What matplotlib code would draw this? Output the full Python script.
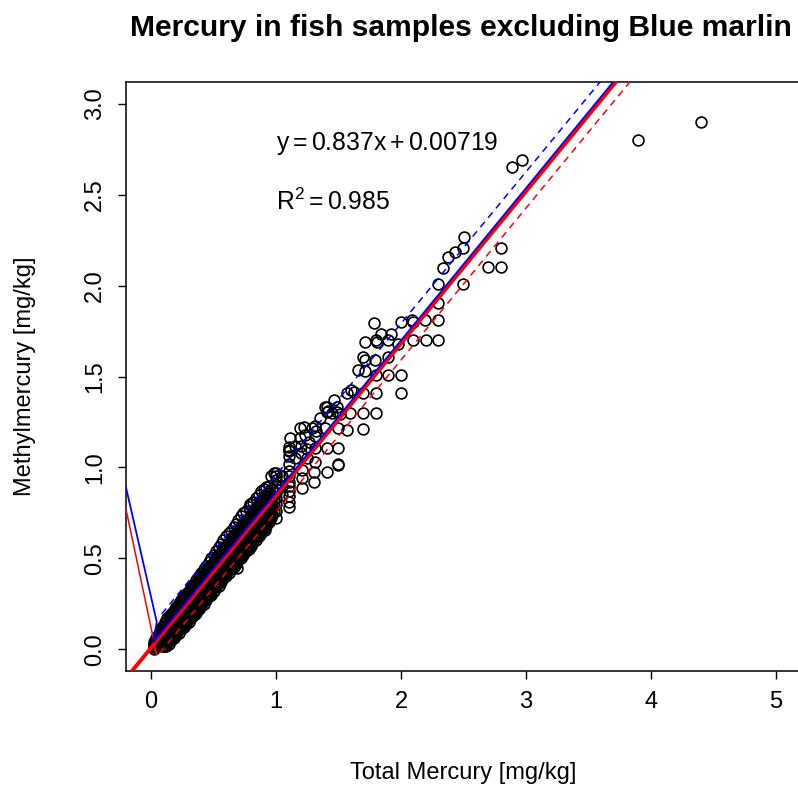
import matplotlib
matplotlib.use("Agg")
import matplotlib.pyplot as plt
import numpy as np

plt.rcParams['font.family'] = ['Liberation Sans', 'DejaVu Sans']
plt.rcParams['mathtext.fontset'] = 'custom'
plt.rcParams['mathtext.rm'] = 'Liberation Sans'
plt.rcParams['mathtext.it'] = 'Liberation Sans:italic'

# ---------------- data ----------------
# dense band: x value and the methylmercury values seen at that x
band_x = [0.02, 0.03, 0.04, 0.05, 0.06, 0.07, 0.08, 0.09, 0.10, 0.12, 0.14, 0.16, 0.18, 0.20,
          0.22, 0.24, 0.26, 0.28, 0.30, 0.32, 0.34, 0.36, 0.38, 0.40, 0.42, 0.44, 0.46, 0.48,
          0.50, 0.52, 0.54, 0.56, 0.58, 0.60, 0.62, 0.64, 0.66, 0.68, 0.70, 0.72, 0.74, 0.76,
          0.78, 0.80, 0.82, 0.84, 0.86, 0.88, 0.90, 0.92, 0.94, 0.96, 0.98]
band_y = [
    [0.01, 0.03, 0.00, 0.02, 0.04], [0.02, 0.04, 0.01, 0.03, 0.05], [0.03, 0.05, 0.02, 0.06, 0.01],
    [0.04, 0.02, 0.07, 0.05, 0.03, 0.06], [0.05, 0.03, 0.08, 0.06, 0.02, 0.07],
    [0.06, 0.04, 0.09, 0.03, 0.07, 0.10], [0.07, 0.05, 0.10, 0.03, 0.08, 0.11],
    [0.08, 0.06, 0.11, 0.04, 0.02, 0.12], [0.08, 0.10, 0.06, 0.12, 0.04, 0.02, 0.13],
    [0.10, 0.08, 0.13, 0.06, 0.15, 0.02, 0.12], [0.12, 0.09, 0.15, 0.07, 0.17, 0.03, 0.14, 0.05],
    [0.13, 0.11, 0.16, 0.09, 0.19, 0.05, 0.18, 0.07], [0.15, 0.12, 0.18, 0.10, 0.21, 0.06, 0.20, 0.08],
    [0.17, 0.14, 0.20, 0.11, 0.23, 0.08, 0.22, 0.10], [0.18, 0.16, 0.21, 0.13, 0.25, 0.09, 0.24, 0.11],
    [0.20, 0.17, 0.23, 0.14, 0.27, 0.11, 0.25, 0.13], [0.22, 0.19, 0.25, 0.16, 0.29, 0.12, 0.27, 0.14],
    [0.23, 0.21, 0.26, 0.18, 0.30, 0.14, 0.29, 0.16], [0.25, 0.22, 0.28, 0.19, 0.32, 0.15, 0.31, 0.17],
    [0.27, 0.24, 0.30, 0.21, 0.34, 0.17, 0.32, 0.19], [0.28, 0.25, 0.31, 0.22, 0.36, 0.19, 0.34, 0.20],
    [0.30, 0.27, 0.33, 0.24, 0.38, 0.20, 0.36, 0.22], [0.32, 0.29, 0.35, 0.26, 0.40, 0.22, 0.37, 0.24],
    [0.33, 0.30, 0.37, 0.27, 0.42, 0.24, 0.39, 0.25], [0.35, 0.32, 0.38, 0.29, 0.44, 0.25, 0.41, 0.27],
    [0.37, 0.34, 0.40, 0.30, 0.46, 0.27, 0.43, 0.28], [0.38, 0.35, 0.42, 0.32, 0.48, 0.29, 0.44, 0.30],
    [0.40, 0.37, 0.43, 0.34, 0.50, 0.30, 0.46, 0.32], [0.42, 0.39, 0.45, 0.35, 0.52, 0.32, 0.48, 0.34],
    [0.43, 0.40, 0.47, 0.37, 0.54, 0.34, 0.50, 0.35], [0.45, 0.42, 0.48, 0.39, 0.56, 0.35, 0.51, 0.37],
    [0.47, 0.44, 0.50, 0.40, 0.58, 0.37, 0.53, 0.39], [0.48, 0.45, 0.52, 0.42, 0.60, 0.39, 0.55, 0.40],
    [0.50, 0.47, 0.53, 0.44, 0.62, 0.40, 0.57, 0.42], [0.52, 0.49, 0.55, 0.45, 0.64, 0.42, 0.58, 0.44],
    [0.53, 0.50, 0.57, 0.47, 0.65, 0.44, 0.60, 0.45], [0.55, 0.52, 0.58, 0.49, 0.67, 0.45, 0.62, 0.47],
    [0.57, 0.54, 0.60, 0.50, 0.69, 0.47, 0.64, 0.49], [0.58, 0.55, 0.62, 0.52, 0.71, 0.49, 0.65, 0.50],
    [0.60, 0.57, 0.63, 0.54, 0.73, 0.50, 0.67, 0.52], [0.62, 0.59, 0.65, 0.56, 0.75, 0.52, 0.69, 0.54],
    [0.63, 0.60, 0.67, 0.57, 0.76, 0.54, 0.70, 0.55], [0.65, 0.62, 0.68, 0.59, 0.78, 0.55, 0.72, 0.57],
    [0.67, 0.64, 0.70, 0.60, 0.80, 0.57, 0.74, 0.59], [0.68, 0.65, 0.72, 0.62, 0.81, 0.59, 0.76, 0.60],
    [0.70, 0.67, 0.74, 0.64, 0.83, 0.60, 0.78, 0.62], [0.72, 0.69, 0.75, 0.66, 0.85, 0.62, 0.80, 0.64],
    [0.73, 0.70, 0.77, 0.68, 0.87, 0.64, 0.82, 0.66], [0.75, 0.72, 0.79, 0.69, 0.88, 0.66, 0.84, 0.67],
    [0.77, 0.74, 0.80, 0.71, 0.89, 0.68, 0.85], [0.78, 0.75, 0.82, 0.73, 0.90, 0.70, 0.87],
    [0.80, 0.77, 0.84, 0.75, 0.95, 0.72], [0.82, 0.79, 0.86, 0.76, 0.97],
]
# in-between samples filling the dense band
band2_x = [0.11, 0.13, 0.15, 0.17, 0.19, 0.21, 0.23, 0.25, 0.27, 0.29, 0.31, 0.33, 0.35, 0.37,
           0.39, 0.41, 0.43, 0.45, 0.47, 0.49, 0.51, 0.53, 0.55, 0.57, 0.59, 0.61, 0.63, 0.65,
           0.67, 0.69, 0.71, 0.73, 0.75, 0.77, 0.79, 0.81, 0.83, 0.85, 0.87, 0.89, 0.91, 0.93,
           0.95, 0.97]
band2_y = [
    [0.02, 0.06, 0.11, 0.15], [0.04, 0.08, 0.13, 0.17], [0.05, 0.10, 0.14, 0.19], [0.07, 0.11, 0.16, 0.20],
    [0.09, 0.13, 0.18, 0.22], [0.10, 0.15, 0.19, 0.24], [0.12, 0.16, 0.21, 0.26], [0.14, 0.18, 0.23, 0.27],
    [0.15, 0.20, 0.24, 0.29], [0.17, 0.21, 0.26, 0.31], [0.19, 0.23, 0.28, 0.32], [0.20, 0.25, 0.29, 0.34],
    [0.22, 0.26, 0.31, 0.36], [0.24, 0.28, 0.33, 0.37], [0.25, 0.30, 0.34, 0.39], [0.27, 0.31, 0.36, 0.41],
    [0.29, 0.33, 0.38, 0.42], [0.30, 0.35, 0.39, 0.44], [0.32, 0.36, 0.41, 0.46], [0.34, 0.38, 0.43, 0.47],
    [0.35, 0.40, 0.44, 0.49], [0.37, 0.41, 0.46, 0.51], [0.39, 0.43, 0.48, 0.52], [0.40, 0.45, 0.49, 0.54],
    [0.42, 0.46, 0.51, 0.56], [0.44, 0.48, 0.53, 0.57], [0.45, 0.50, 0.54, 0.59], [0.47, 0.51, 0.56, 0.61],
    [0.49, 0.53, 0.58, 0.62], [0.50, 0.55, 0.59, 0.64], [0.52, 0.56, 0.61, 0.66], [0.54, 0.58, 0.63, 0.67],
    [0.55, 0.60, 0.64, 0.69], [0.57, 0.61, 0.66, 0.71], [0.59, 0.63, 0.68, 0.72], [0.60, 0.65, 0.69, 0.74],
    [0.62, 0.66, 0.71, 0.76], [0.64, 0.68, 0.73, 0.77], [0.65, 0.70, 0.74, 0.79], [0.67, 0.71, 0.76, 0.81],
    [0.69, 0.73, 0.78, 0.82], [0.70, 0.75, 0.79, 0.84], [0.72, 0.76, 0.81, 0.86], [0.74, 0.78, 0.83, 0.88],
]

# stacked columns and scattered samples
col_x = [1.00] * 10 + [1.10] * 12 + [1.05] * 3
col_y = [0.72, 0.76, 0.80, 0.83, 0.86, 0.88, 0.90, 0.93, 0.95, 0.97,
         0.78, 0.81, 0.84, 0.87, 0.90, 0.92, 0.95, 0.98, 1.02, 1.06, 1.09, 1.11,
         0.85, 0.90, 0.95]

sparse_x = [0.686, 0.912, 0.818, 0.79, 1.19, 1.285, 1.39, 1.39, 1.486, 1.566, 1.50, 1.19, 1.10, 1.11,
            1.31, 1.405, 1.50, 1.31, 1.405, 1.50, 1.205, 1.205, 1.205, 1.30, 1.30, 1.405, 1.486,
            1.15, 1.20, 1.20, 1.15, 1.25, 1.25,
            1.787, 2.00, 2.10, 1.837, 1.92, 1.80, 1.81, 1.712, 1.90, 1.98, 2.10, 1.70, 1.71, 1.79,
            1.90, 1.66, 1.71, 1.80, 1.90, 2.00, 1.60, 1.62, 1.70, 1.80, 2.00, 1.467, 1.405, 1.42,
            1.45, 1.51, 1.59, 1.70, 1.80, 1.352, 1.70, 1.566, 1.22, 1.31, 1.32, 1.23, 1.31, 1.26,
            1.50, 2.886, 2.965, 2.507, 2.499, 2.432, 2.379, 2.333, 2.299, 2.499, 2.299, 2.797,
            2.699, 2.797, 2.085, 2.19, 2.30, 2.20, 2.30, 3.90, 4.40]
sparse_y = [0.444, 0.655, 0.618, 0.80, 1.215, 1.215, 1.215, 1.333, 1.333, 1.407, 1.215, 1.16, 1.095, 1.16,
            1.105, 1.105, 1.105, 1.03, 0.976, 1.013, 0.985, 0.94, 0.884, 0.976, 0.921, 1.306, 1.306,
            1.05, 1.08, 1.12, 1.12, 1.10, 1.05,
            1.793, 1.80, 1.80, 1.732, 1.732, 1.70, 1.69, 1.69, 1.70, 1.68, 1.70, 1.61, 1.59, 1.59,
            1.61, 1.535, 1.53, 1.51, 1.51, 1.51, 1.425, 1.416, 1.407, 1.407, 1.407, 1.37, 1.33, 1.31,
            1.30, 1.295, 1.30, 1.30, 1.30, 1.27, 1.21, 1.205, 1.22, 1.23, 1.20, 1.18, 1.17, 1.14,
            1.018, 2.651, 2.691, 2.269, 2.205, 2.187, 2.156, 2.095, 2.009, 2.009, 1.903, 2.205,
            2.10, 2.10, 1.81, 1.81, 1.81, 1.70, 1.70, 2.80, 2.90]

# fitted lines
fit_slope = 0.837
fit_intercept = 0.00719
fit_range = [-0.3, 4.2]
blue_fit_x = [-0.2, 0.046, 0.02, 3.9]
blue_fit_y = [0.89, 0.15, 0.04, 3.29]
red_thin_x = [-0.2, 0.046, 0.02, 3.9]
red_thin_y = [0.77, -0.03, 0.02, 3.27]
upper_x = [0.086, 3.7]
upper_y = [0.194, 3.21]
lower_x = [0.072, 3.95]
lower_y = [-0.02, 3.22]
r_squared = 0.985

# ---------------- figure ----------------
fig = plt.figure(figsize=(7.98, 7.91), dpi=100)
ax = fig.add_axes([126 / 798, (791 - 671) / 791, (801 - 126) / 798, (671 - 82) / 791])

px = []
py = []
for xs_, ys_ in ((band_x, band_y), (band2_x, band2_y)):
    for xv, ys in zip(xs_, ys_):
        for yv in ys:
            px.append(xv)
            py.append(yv)
px += col_x + sparse_x
py += col_y + sparse_y

ax.plot(px, py, linestyle='none', marker='o', ms=7.8, mfc='none', mec='black', mew=1.2, zorder=2)

fx = np.array(fit_range)
ax.plot(fx, fit_slope * fx + fit_intercept, color='red', lw=2.8, zorder=3)
ax.plot(red_thin_x, red_thin_y, color='red', lw=1.1, zorder=3)
ax.plot(blue_fit_x, blue_fit_y, color='blue', lw=1.3, zorder=4)
ax.plot(upper_x, upper_y, color='blue', lw=1.1, dashes=(4.5, 3.5), zorder=3)
ax.plot(lower_x, lower_y, color='red', lw=1.1, dashes=(4.5, 3.5), zorder=3)

ax.text(1.0, 2.78, r'$\mathrm{y = %.3fx + %.5f}$' % (fit_slope, fit_intercept), fontsize=17.8,
        ha='left', va='center')
ax.text(1.0, 2.46, r'$\mathrm{R^2 = %.3f}$' % r_squared, fontsize=17.8, ha='left', va='center')

ax.set_xlim(-0.2, 5.2)
ax.set_ylim(-0.12, 3.12)
ax.set_xticks([0, 1, 2, 3, 4, 5])
ax.set_yticks([0.0, 0.5, 1.0, 1.5, 2.0, 2.5, 3.0])
ax.set_xticklabels(['0', '1', '2', '3', '4', '5'])
ax.set_yticklabels(['0.0', '0.5', '1.0', '1.5', '2.0', '2.5', '3.0'], rotation=90, va='center')
ax.tick_params(axis='both', direction='out', length=5.5, width=1.0, labelsize=17, pad=9)
for s in ax.spines.values():
    s.set_linewidth(1.1)

fig.text(461 / 798, 1 - 28 / 791, 'Mercury in fish samples excluding Blue marlin', fontsize=21.6,
         fontweight='bold', ha='center', va='center')
fig.text(463 / 798, 1 - 773 / 791, 'Total Mercury [mg/kg]', fontsize=17, ha='center', va='center')
fig.text(25 / 798, 1 - 376 / 791, 'Methylmercury [mg/kg]', fontsize=17, ha='center', va='center',
         rotation=90)

fig.savefig('out.png', dpi=100)
